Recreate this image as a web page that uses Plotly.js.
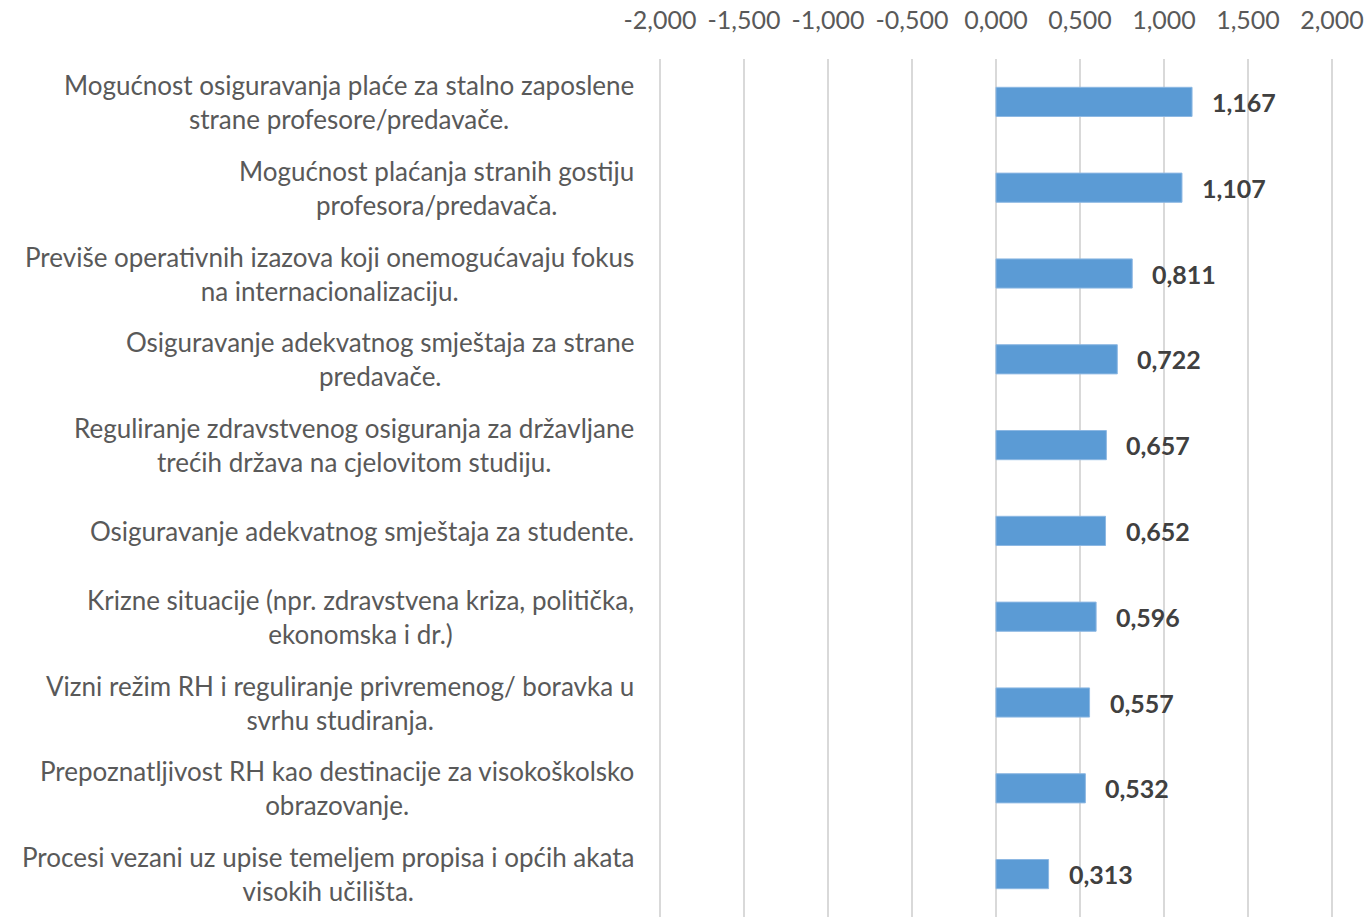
<!DOCTYPE html>
<html>
<head>
<meta charset="utf-8">
<script src="https://cdn.plot.ly/plotly-3.0.1.min.js"></script>
<style>html,body{margin:0;padding:0;background:#fff;}#chart{width:1365px;height:917px;}</style>
</head>
<body>
<div id="chart"></div>
<script>
const categories = [
  "Mogućnost osiguravanja plaće za stalno zaposlene<br>strane profesore/predavače.",
  "Mogućnost plaćanja stranih gostiju<br>profesora/predavača.",
  "Previše operativnih izazova koji onemogućavaju fokus<br>na internacionalizaciju.",
  "Osiguravanje adekvatnog smještaja za strane<br>predavače.",
  "Reguliranje zdravstvenog osiguranja za državljane<br>trećih država na cjelovitom studiju.",
  "Osiguravanje adekvatnog smještaja za studente.",
  "Krizne situacije (npr. zdravstvena kriza, politička,<br>ekonomska i dr.)",
  "Vizni režim RH i reguliranje privremenog/ boravka u<br>svrhu studiranja.",
  "Prepoznatljivost RH kao destinacije za visokoškolsko<br>obrazovanje.",
  "Procesi vezani uz upise temeljem propisa i općih akata<br>visokih učilišta."
];
const values = [1.167, 1.107, 0.811, 0.722, 0.657, 0.652, 0.596, 0.557, 0.532, 0.313];
const valueLabels = ["1,167", "1,107", "0,811", "0,722", "0,657", "0,652", "0,596", "0,557", "0,532", "0,313"];
const tickValues = [-2, -1.5, -1, -0.5, 0, 0.5, 1, 1.5, 2];
const tickLabels = ["-2,000", "-1,500", "-1,000", "-0,500", "0,000", "0,500", "1,000", "1,500", "2,000"];

const FONT = "Lato, 'Open Sans', sans-serif";

const trace = {
  type: "bar",
  orientation: "h",
  x: values,
  y: categories,
  marker: {color: "#5B9BD5", line: {color: "#8DB8E3", width: 1}},
  hoverinfo: "none"
};

const annotations = [];
categories.forEach((c, i) => {
  annotations.push({
    xref: "paper", yref: "y", x: -0.032, y: c,
    xanchor: "right", yanchor: "middle", align: "center",
    text: c, showarrow: false,
    font: {family: FONT, size: 26, color: "#595959"}
  });
  annotations.push({
    xref: "x", yref: "y", x: values[i], y: c,
    xanchor: "left", yanchor: "middle", xshift: 18,
    text: valueLabels[i], showarrow: false,
    font: {family: FONT, size: 25, color: "#404040", weight: "bold"}
  });
});

const layout = {
  width: 1365, height: 917,
  margin: {l: 658, r: 31, t: 59, b: 0},
  paper_bgcolor: "#fff", plot_bgcolor: "#fff",
  showlegend: false,
  bargap: 0.66,
  xaxis: {
    side: "top", range: [-2.012, 2.012],
    tickvals: tickValues, ticktext: tickLabels,
    showgrid: true, gridcolor: "#D9D9D9", gridwidth: 2,
    zeroline: false, showline: false, ticks: "",
    ticklabelstandoff: 24,
    tickfont: {family: FONT, size: 25, color: "#595959"},
    fixedrange: true
  },
  yaxis: {
    autorange: "reversed", showticklabels: false,
    showgrid: false, zeroline: false, showline: false, ticks: "",
    fixedrange: true
  },
  annotations: annotations
};

Plotly.newPlot("chart", [trace], layout, {displayModeBar: false, staticPlot: true});
</script>
</body>
</html>
